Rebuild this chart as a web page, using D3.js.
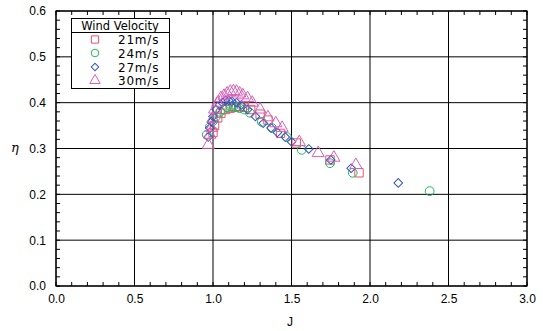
<!DOCTYPE html>
<html><head><meta charset="utf-8">
<script src="https://cdn.jsdelivr.net/npm/d3@7"></script>
<style>body{margin:0;background:#fff;}svg{display:block;font-family:"Liberation Sans",Arial,sans-serif;}</style>
</head><body><svg id="c" width="543" height="331"></svg>
<script>
const xTicks = [0, 0.5, 1.0, 1.5, 2.0, 2.5, 3.0];
const yTicks = [0, 0.1, 0.2, 0.3, 0.4, 0.5, 0.6];
const legendTitle = "Wind Velocity";
const seriesNames = ["21m/s", "24m/s", "27m/s", "30m/s"];

const j21 = [1.00, 1.01, 1.03, 1.05, 1.08, 1.11, 1.14, 1.17, 1.20, 1.24, 1.30, 1.35, 1.43, 1.53, 1.745, 1.93];
const e21 = [0.335, 0.350, 0.367, 0.377, 0.385, 0.388, 0.390, 0.392, 0.390, 0.385, 0.375, 0.362, 0.333, 0.312, 0.275, 0.247];

const j24 = [0.96, 0.98, 1.00, 1.02, 1.045, 1.07, 1.09, 1.11, 1.13, 1.15, 1.17, 1.20, 1.235, 1.31, 1.375, 1.47, 1.565, 1.745, 1.89, 2.38];
const e24 = [0.330, 0.347, 0.360, 0.370, 0.380, 0.385, 0.390, 0.392, 0.392, 0.390, 0.388, 0.385, 0.378, 0.358, 0.345, 0.325, 0.297, 0.268, 0.247, 0.207];

const j27 = [0.97, 0.98, 0.99, 1.00, 1.02, 1.04, 1.06, 1.08, 1.10, 1.12, 1.15, 1.18, 1.22, 1.27, 1.32, 1.37, 1.41, 1.46, 1.50, 1.61, 1.75, 1.88, 2.18];
const e27 = [0.325, 0.345, 0.358, 0.370, 0.385, 0.395, 0.400, 0.405, 0.405, 0.403, 0.400, 0.395, 0.385, 0.370, 0.355, 0.345, 0.335, 0.325, 0.315, 0.299, 0.275, 0.257, 0.225];

const j30 = [0.97, 0.98, 0.99, 1.00, 1.01, 1.03, 1.05, 1.07, 1.09, 1.11, 1.13, 1.15, 1.17, 1.19, 1.22, 1.25, 1.30, 1.35, 1.40, 1.44, 1.55, 1.67, 1.77, 1.91];
const e30 = [0.308, 0.330, 0.345, 0.365, 0.385, 0.400, 0.410, 0.415, 0.420, 0.424, 0.425, 0.424, 0.420, 0.416, 0.410, 0.400, 0.385, 0.368, 0.355, 0.345, 0.314, 0.290, 0.280, 0.264];

const colors = ["#f0506a", "#20b860", "#3558c0", "#d860b8"];
const shapes = [d3.symbolSquare, d3.symbolCircle, d3.symbolSquare, d3.symbolTriangle];
const rot = [0, 0, 45, 0];
const sizes = [70, 60, 38, 64];

const series = [[j21,e21],[j24,e24],[j27,e27],[j30,e30]].map((s,i)=>({
  name: seriesNames[i], pts: s[0].map((j,k)=>({j, e:s[1][k]}))
}));

const svg = d3.select("#c");
const x = d3.scaleLinear().domain([0,3]).range([56,527]);
const y = d3.scaleLinear().domain([0,0.6]).range([286,11]);

const g = svg.append("g");
g.selectAll(".vg").data(xTicks).join("line")
  .attr("x1",d=>x(d)).attr("x2",d=>x(d)).attr("y1",y(0)).attr("y2",y(0.6))
  .attr("stroke","#000").attr("stroke-width",1);
g.selectAll(".hg").data(yTicks).join("line")
  .attr("y1",d=>y(d)).attr("y2",d=>y(d)).attr("x1",x(0)).attr("x2",x(3))
  .attr("stroke","#000").attr("stroke-width",1);

const xMinor = d3.range(0, 3.0001, 0.1);
const yMinor = d3.range(0, 0.6001, 0.02);
const tl = 4;
xMinor.forEach(v=>{
  g.append("line").attr("x1",x(v)).attr("x2",x(v)).attr("y1",y(0)).attr("y2",y(0)-tl).attr("stroke","#000");
  g.append("line").attr("x1",x(v)).attr("x2",x(v)).attr("y1",y(0.6)).attr("y2",y(0.6)+tl).attr("stroke","#000");
});
yMinor.forEach(v=>{
  g.append("line").attr("y1",y(v)).attr("y2",y(v)).attr("x1",x(0)).attr("x2",x(0)+tl).attr("stroke","#000");
  g.append("line").attr("y1",y(v)).attr("y2",y(v)).attr("x1",x(3)).attr("x2",x(3)-tl).attr("stroke","#000");
});
g.append("rect").attr("x",x(0)).attr("y",y(0.6)).attr("width",x(3)-x(0)).attr("height",y(0)-y(0.6))
  .attr("fill","none").attr("stroke","#000").attr("stroke-width",1.2);

const xAxis = d3.axisBottom(x).tickValues(xTicks).tickFormat(d3.format(".1f")).tickSize(0).tickPadding(8);
const xa = svg.append("g").attr("transform",`translate(0,${y(0)})`).call(xAxis);
xa.select(".domain").remove();
xa.selectAll("text").attr("font-size",12).attr("fill","#000").attr("font-family","Liberation Sans, Arial, sans-serif");
const yAxis = d3.axisLeft(y).tickValues(yTicks).tickFormat(d3.format(".1f")).tickSize(0).tickPadding(10);
const ya = svg.append("g").attr("transform",`translate(${x(0)},0)`).call(yAxis);
ya.select(".domain").remove();
ya.selectAll("text").attr("font-size",12).attr("fill","#000").attr("font-family","Liberation Sans, Arial, sans-serif");

svg.append("text").attr("x",290).attr("y",326).attr("text-anchor","middle").attr("font-size",12).text("J");
svg.append("text").attr("x",15).attr("y",152).attr("text-anchor","middle").attr("font-size",13)
  .attr("font-style","italic").attr("font-family","DejaVu Serif, serif").text("η");

series.forEach((s,i)=>{
  svg.append("g").selectAll("path").data(s.pts).join("path")
    .attr("d", d3.symbol().type(shapes[i]).size(sizes[i]))
    .attr("transform", d=>`translate(${x(d.j)},${y(d.e)}) rotate(${rot[i]})`)
    .attr("fill","none").attr("stroke",colors[i]).attr("stroke-width",1);
});

const lg = svg.append("g");
lg.append("rect").attr("x",71.5).attr("y",18.5).attr("width",98).attr("height",70)
  .attr("fill","#fff").attr("stroke","#000").attr("stroke-width",1);
lg.append("line").attr("x1",71.5).attr("x2",169.5).attr("y1",32.5).attr("y2",32.5).attr("stroke","#000");
lg.append("text").attr("x",120).attr("y",29.5).attr("text-anchor","middle").attr("font-size",11.5)
  .attr("font-family","DejaVu Sans, sans-serif").text(legendTitle);
const ly = [39.5, 53, 67, 80.5];
seriesNames.forEach((n,i)=>{
  lg.append("path").attr("d", d3.symbol().type(shapes[i]).size(sizes[i]*0.75))
    .attr("transform",`translate(95,${ly[i]}) rotate(${rot[i]})`).attr("fill","none").attr("stroke",colors[i]);
  lg.append("text").attr("x",118).attr("y",ly[i]+4.5).attr("font-size",12).attr("letter-spacing",0.8)
    .attr("font-family","DejaVu Sans, sans-serif").text(n);
});
</script></body></html>
